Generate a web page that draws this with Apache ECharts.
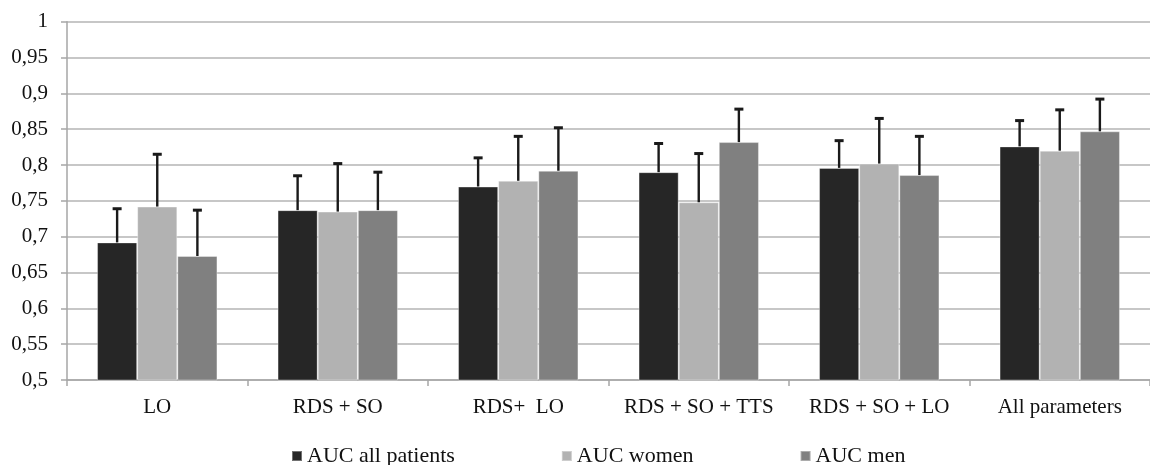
<!DOCTYPE html>
<html>
<head>
<meta charset="utf-8">
<script src="https://cdn.jsdelivr.net/npm/echarts@6/dist/echarts.min.js"></script>
<style>html,body{margin:0;padding:0;background:#fff;}#c{width:1150px;height:465px;}</style>
</head>
<body>
<div id="c"></div>
<script>
const categories = ['LO', 'RDS + SO', 'RDS+  LO', 'RDS + SO + TTS', 'RDS + SO + LO', 'All parameters'];
const seriesNames = ['AUC all patients', 'AUC women', 'AUC men'];
const aucAll = [0.692, 0.737, 0.770, 0.790, 0.796, 0.826];
const aucWomen = [0.742, 0.735, 0.778, 0.748, 0.802, 0.820];
const aucMen = [0.673, 0.737, 0.792, 0.832, 0.786, 0.847];
const errTopAll = [0.739, 0.785, 0.810, 0.830, 0.834, 0.862];
const errTopWomen = [0.815, 0.802, 0.840, 0.816, 0.865, 0.877];
const errTopMen = [0.737, 0.790, 0.852, 0.878, 0.840, 0.892];
const yTicks = [0.5, 0.55, 0.6, 0.65, 0.7, 0.75, 0.8, 0.85, 0.9, 0.95, 1];

const colors = ['#262626', '#b2b2b2', '#808080'];
const values = [aucAll, aucWomen, aucMen];
const errTops = [errTopAll, errTopWomen, errTopMen];
const catGap = 0.333;
const font = "'Liberation Serif', 'DejaVu Serif', serif";

function errorSeries(idx) {
  return {
    type: 'custom',
    name: seriesNames[idx] + ' error',
    silent: true,
    z: 5,
    data: categories.map((c, i) => [i, values[idx][i], errTops[idx][i]]),
    renderItem: function (params, api) {
      const ci = api.value(0);
      const base = api.coord([ci, api.value(1)]);
      const top = api.coord([ci, api.value(2)]);
      const catW = api.size([1, 0])[0];
      const barW = catW * (1 - catGap) / 3;
      const x = base[0] + (idx - 1) * barW;
      const half = 4.5;
      return {
        type: 'group',
        children: [
          { type: 'line', shape: { x1: x, y1: base[1], x2: x, y2: top[1] }, style: { stroke: '#1a1a1a', lineWidth: 2.4 } },
          { type: 'line', shape: { x1: x - half, y1: top[1], x2: x + half, y2: top[1] }, style: { stroke: '#1a1a1a', lineWidth: 3 } }
        ]
      };
    }
  };
}

const chart = echarts.init(document.getElementById('c'), null, { renderer: 'canvas' });
chart.setOption({
  animation: false,
  backgroundColor: '#ffffff',
  textStyle: { fontFamily: font },
  grid: { left: 67, top: 21.7, width: 1098, height: 358.3, containLabel: false },
  legend: {
    data: seriesNames,
    top: 440,
    left: 286,
    itemWidth: 10,
    itemHeight: 10,
    itemGap: 106,
    icon: 'rect',
    textStyle: { fontFamily: font, fontSize: 22, color: '#111' }
  },
  xAxis: {
    type: 'category',
    data: categories,
    axisLine: { lineStyle: { color: '#a6a6a6', width: 1.5 } },
    axisTick: { show: true, interval: 0, length: 6, lineStyle: { color: '#a6a6a6', width: 1.5 } },
    axisLabel: { interval: 0, fontFamily: font, fontSize: 21, color: '#111', margin: 17 },
    splitLine: { show: false }
  },
  yAxis: {
    type: 'value',
    min: 0.5,
    max: 1,
    interval: 0.05,
    axisLine: { show: true, lineStyle: { color: '#a6a6a6', width: 1.5 } },
    axisTick: { show: true, length: 6, lineStyle: { color: '#a6a6a6', width: 1.5 } },
    axisLabel: {
      fontFamily: font, fontSize: 21, color: '#111', margin: 19,
      formatter: function (v) {
        const t = yTicks.find(k => Math.abs(k - v) < 1e-9);
        return String(t !== undefined ? t : v).replace('.', ',');
      }
    },
    splitLine: { show: true, lineStyle: { color: '#b4b4b4', width: 1.5 } }
  },
  series: [
    ...seriesNames.map((n, i) => ({
      type: 'bar',
      name: n,
      data: values[i],
      barGap: '0%',
      barCategoryGap: (catGap * 100) + '%',
      itemStyle: { color: colors[i], borderColor: 'rgba(255,255,255,0.35)', borderWidth: 1 },
      z: 2
    })),
    errorSeries(0),
    errorSeries(1),
    errorSeries(2)
  ]
});
</script>
</body>
</html>
